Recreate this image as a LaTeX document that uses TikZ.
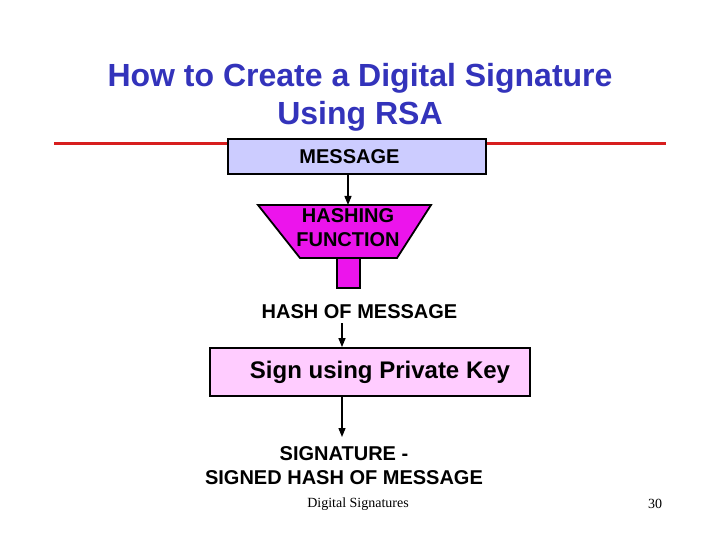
\documentclass[tikz,border=0pt]{standalone}
\usepackage{fontspec}
\setmainfont{Liberation Sans}
\newfontfamily\footfont{Liberation Serif}
\usetikzlibrary{arrows.meta}
\definecolor{titleblue}{RGB}{51,51,187}
\definecolor{rulered}{RGB}{215,30,30}
\definecolor{msgfill}{RGB}{204,204,255}
\definecolor{hashfill}{RGB}{236,20,236}
\definecolor{signfill}{RGB}{255,204,255}
\tikzset{
  lbl/.style={font=\fontsize{20}{24}\selectfont\bfseries, align=center, inner sep=0pt},
  boxstyle/.style={draw=black, line width=1.8pt, rectangle, inner sep=0pt},
  arr/.style={line width=1.3pt, -{Triangle[length=9pt,width=7pt]}},
  foot/.style={font=\footfont\fontsize{14}{17}\selectfont, inner sep=0pt}
}
\begin{document}
\begin{tikzpicture}[x=1pt,y=-1pt]
\useasboundingbox[fill=white] (0,0) rectangle (720,540);
% title
\node[font=\fontsize{32}{38}\selectfont\bfseries, text=titleblue, align=center, inner sep=0pt, anchor=north] (title) at (360,63)
  {How to Create a Digital Signature\\Using RSA};
% red rule
\coordinate (rl) at (54,144);
\coordinate (rr) at (666,144);
\draw[rulered, line width=3pt] (rl) -- (rr);
% message box
\node[boxstyle, fill=msgfill, minimum width=258pt, minimum height=35pt, font=\fontsize{20}{24}\selectfont\bfseries] (msg) at (357,156.5) {\hspace*{-15pt}MESSAGE};
% hashing funnel
\coordinate (fntop) at (348,205);
\filldraw[fill=hashfill, draw=black, line width=1.8pt] (337,258) rectangle (360,288);
\filldraw[fill=hashfill, draw=black, line width=1.8pt] (258,205) -- (431,205) -- (397,258) -- (300,258) -- cycle;
\node[lbl] (hashfn) at (348,228) {HASHING\\FUNCTION};
\draw[arr] (msg.south -| fntop) -- (fntop);
% hash of message
\node[lbl, inner ysep=5pt, anchor=base] (hom) at (359.5,318) {HASH OF MESSAGE};
% sign box
\coordinate (ax) at (342,0);
\node[boxstyle, fill=signfill, minimum width=320pt, minimum height=48pt, font=\fontsize{24}{28}\selectfont\bfseries] (sgn) at (370,372) {\hspace*{20pt}Sign using Private Key};
\draw[arr] (hom.south -| ax) -- (sgn.north -| ax);
% signature
\node[lbl, inner ysep=9pt, anchor=north] (sig) at (344,437) {SIGNATURE -\\SIGNED HASH OF MESSAGE};
\draw[arr] (sgn.south -| ax) -- (sig.north -| ax);
% footer
\node[foot] (ft) at (358,504) {Digital Signatures};
\node[foot] (pg) at (655,504) {30};
\end{tikzpicture}
\end{document}
